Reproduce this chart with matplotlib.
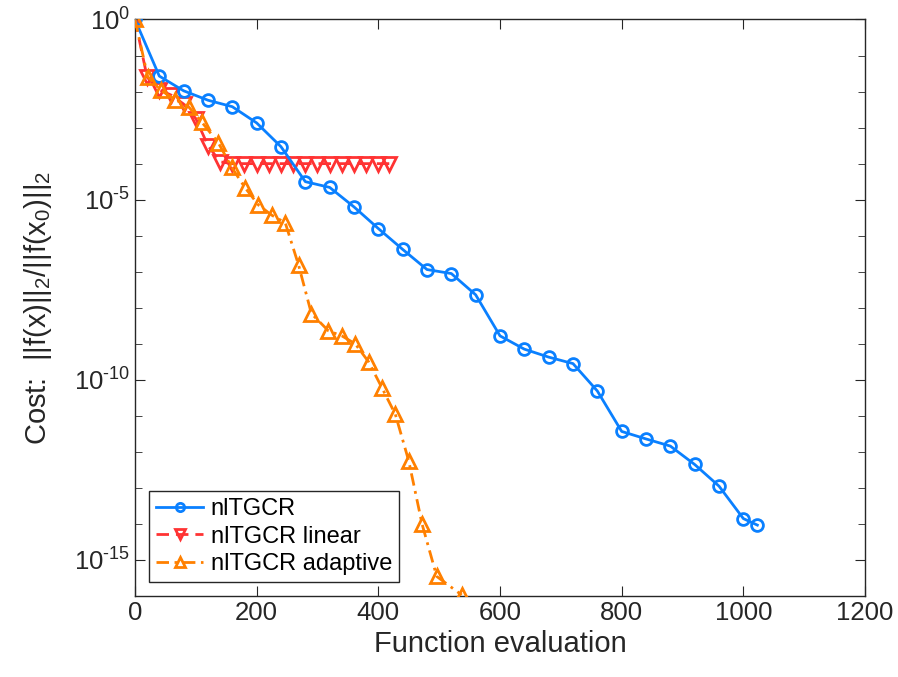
import numpy as np
import matplotlib
matplotlib.use('Agg')
import matplotlib.pyplot as plt
from matplotlib.ticker import FixedLocator, FuncFormatter, NullFormatter

plt.rc('font', family='Liberation Sans', size=18)
plt.rc('mathtext', fontset='custom', rm='Liberation Sans', it='Liberation Sans:italic')
plt.rc('axes', unicode_minus=False)

# nlTGCR
x_base = [0, 40, 80, 120, 160, 200, 240, 280, 320, 360, 400, 440, 480, 520,
          560, 600, 640, 680, 720, 760, 800, 840, 880, 920, 960, 1000, 1023]
y_base = [1.0, 2.69e-2, 1.05e-2, 5.75e-3, 3.8e-3, 1.35e-3, 2.95e-4, 3.16e-5,
          2.19e-5, 6.3e-6, 1.58e-6, 4.17e-7, 1.15e-7, 8.9e-8, 2.29e-8, 1.66e-9,
          7.1e-10, 4.27e-10, 2.82e-10, 4.9e-11, 3.7e-12, 2.29e-12, 1.45e-12,
          4.47e-13, 1.12e-13, 1.41e-14, 9.3e-15]

# nlTGCR linear
x_lin = [0, 20, 40, 60, 80, 100, 120, 140, 160, 180, 200, 220, 240, 260,
         280, 300, 320, 340, 360, 380, 400, 418]
y_lin = [1.0, 2.5e-2, 1.12e-2, 7.9e-3, 4.5e-3, 1.78e-3, 3.16e-4, 1.12e-4,
         1.0e-4, 1.0e-4, 1.0e-4, 1.0e-4, 1.0e-4, 1.0e-4, 1.0e-4, 1.0e-4,
         1.0e-4, 1.0e-4, 1.0e-4, 1.0e-4, 1.0e-4, 1.0e-4]

# nlTGCR adaptive
x_ada = [0, 21, 42, 66, 88, 110, 137, 159, 181, 203, 225, 247, 269, 290,
         318, 340, 362, 384, 406, 428, 450, 472, 496, 537]
y_ada = [1.0, 2.57e-2, 1.1e-2, 6.0e-3, 3.8e-3, 1.41e-3, 3.8e-4, 7.9e-5,
         2.14e-5, 7.1e-6, 3.7e-6, 2.29e-6, 1.51e-7, 6.9e-9, 2.29e-9, 1.66e-9,
         1.0e-9, 3.16e-10, 6.0e-11, 1.1e-11, 5.6e-13, 9.8e-15, 3.5e-16, 1.07e-16]


def pow10(v, pos):
    e = int(round(np.log10(v)))
    if e < 0:
        return r'$10^{\text{-}%d}$' % (-e)
    return r'$10^{%d}$' % e


fig = plt.figure(figsize=(8.98, 6.77), dpi=100)
ax = fig.add_axes([0.1503, 0.1196, 0.8130, 0.8516])

ax.semilogy(x_base, y_base, '-o', color='#0a80ff', lw=2, ms=8.5, mew=2,
            mfc='none', label='nlTGCR', zorder=3)
ax.semilogy(x_lin, y_lin, 'v', ls=(0, (4.5, 2.5)), color='#ff3333', lw=2,
            ms=9.5, mew=2, mfc='none', label='nlTGCR linear', zorder=2)
ax.semilogy(x_ada, y_ada, '^', ls=(0, (4.5, 2, 1, 2)), color='#ff8000', lw=2,
            ms=9.5, mew=2, mfc='none', label='nlTGCR adaptive', zorder=4)

ax.set_xlim(0, 1200)
ax.set_ylim(1e-16, 1e0)
ax.set_xticks(np.arange(0, 1201, 200))
ax.yaxis.set_major_locator(FixedLocator([1e0, 1e-5, 1e-10, 1e-15]))
ax.yaxis.set_major_formatter(FuncFormatter(pow10))
ax.yaxis.set_minor_locator(FixedLocator([10.0**k for k in range(-16, 1)]))
ax.yaxis.set_minor_formatter(NullFormatter())

for s in ax.spines.values():
    s.set_color('#262626')
    s.set_linewidth(1)
ax.tick_params(which='both', direction='in', top=True, right=True,
               colors='#262626', labelsize=18.5)
ax.tick_params(which='major', length=7)
ax.tick_params(which='minor', length=5)

ax.set_xlabel('Function evaluation', color='#262626', fontsize=21)
ax.set_ylabel('Cost:  ||f(x)||$_2$/||f(x$_0$)||$_2$', color='#262626',
              fontsize=21, labelpad=14)

leg = ax.legend(loc='lower left', fontsize=17, fancybox=False, framealpha=1,
                edgecolor='#262626', borderpad=0.3, labelspacing=0.22,
                handlelength=2.0, handletextpad=0.3, borderaxespad=0.6,
                markerscale=0.7)
leg.get_frame().set_linewidth(1)

fig.savefig('out.png', dpi=100)
